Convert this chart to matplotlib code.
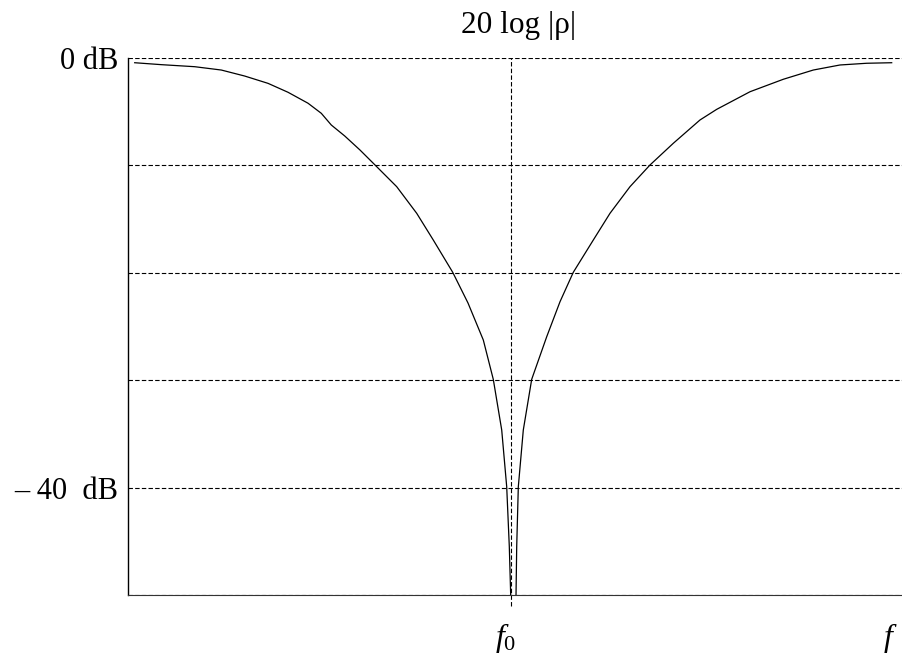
import matplotlib
matplotlib.use("Agg")
import matplotlib.pyplot as plt
import matplotlib.transforms as mtransforms

plt.rcParams['font.family'] = ['Liberation Serif', 'DejaVu Serif']
plt.rcParams['mathtext.fontset'] = 'custom'
plt.rcParams['mathtext.rm'] = 'Liberation Serif'
plt.rcParams['mathtext.it'] = 'Liberation Serif:italic'

# frequency as f/f0, reflection in dB
f_low = [0.0175, 0.0869, 0.1740, 0.2434, 0.3045, 0.3653, 0.4174, 0.4696,
         0.5043, 0.5304, 0.5654, 0.6053, 0.6444, 0.7010, 0.7532, 0.7965,
         0.8471, 0.8870, 0.9270, 0.9530, 0.9750, 0.9880, 0.9948, 0.9984]
db_low = [-0.44, -0.62, -0.81, -1.12, -1.68, -2.36, -3.19, -4.21,
          -5.15, -6.24, -7.26, -8.57, -9.96, -11.98, -14.46, -16.95,
          -19.95, -22.81, -26.26, -29.92, -34.64, -39.92, -45.50, -50.0]

f_high = [1.0123, 1.0141, 1.0183, 1.0313, 1.0532, 1.0924, 1.1271, 1.1618,
          1.2139, 1.2575, 1.3097, 1.3619, 1.4227, 1.4923, 1.5359, 1.6228,
          1.7097, 1.7879, 1.8576, 1.9272, 1.9924]
db_high = [-50.0, -45.50, -39.92, -34.64, -29.92, -25.95, -22.69, -19.95,
           -16.95, -14.46, -11.98, -9.96, -7.94, -5.77, -4.78, -3.14,
           -1.98, -1.12, -0.65, -0.49, -0.44]

grid_db = [0, -10, -20, -30, -40, -50]
ytick_pos = [0, -40]
ytick_lab = ['0 dB', '\u2013 40  dB']

fig = plt.figure(figsize=(9.03, 6.6), dpi=100)
ax = fig.add_axes([128/903, 65/660, 775/903, 537/660])

dash = (0, (4, 2))
for g in grid_db:
    ax.axhline(g, color='black', lw=0.8, ls=dash, zorder=1)
ax.axvline(1.0, color='black', lw=0.8, ls=dash, zorder=1, clip_on=False,
           ymin=-0.02, ymax=1)

ax.plot(f_low, db_low, color='black', lw=0.9, zorder=3)
ax.plot(f_high, db_high, color='black', lw=0.9, zorder=3)

ax.set_xlim(0, 775/383.3)
ax.set_ylim(-50, 0)

ax.spines['top'].set_visible(False)
ax.spines['right'].set_visible(False)
ax.spines['left'].set_linewidth(1.0)
ax.spines['bottom'].set_linewidth(0.8)
ax.spines['bottom'].set_color('#333333')

ax.set_xticks([])
ax.set_yticks(ytick_pos)
ax.set_yticklabels(ytick_lab, fontsize=22)
ax.tick_params(axis='y', length=0, pad=7)

trans = mtransforms.blended_transform_factory(ax.transData, ax.transAxes)
ax.text(0.984, -0.048, r'$f_0$', transform=trans, fontsize=23,
        ha='center', va='top')
ax.text(1.988, -0.048, r'$f$', transform=trans, fontsize=23,
        ha='center', va='top')

ax.text(1.02, 1.0466, '20 log |\u03c1|', transform=trans, fontsize=22.5,
        ha='center', va='baseline')

fig.savefig('out.png', dpi=100)
